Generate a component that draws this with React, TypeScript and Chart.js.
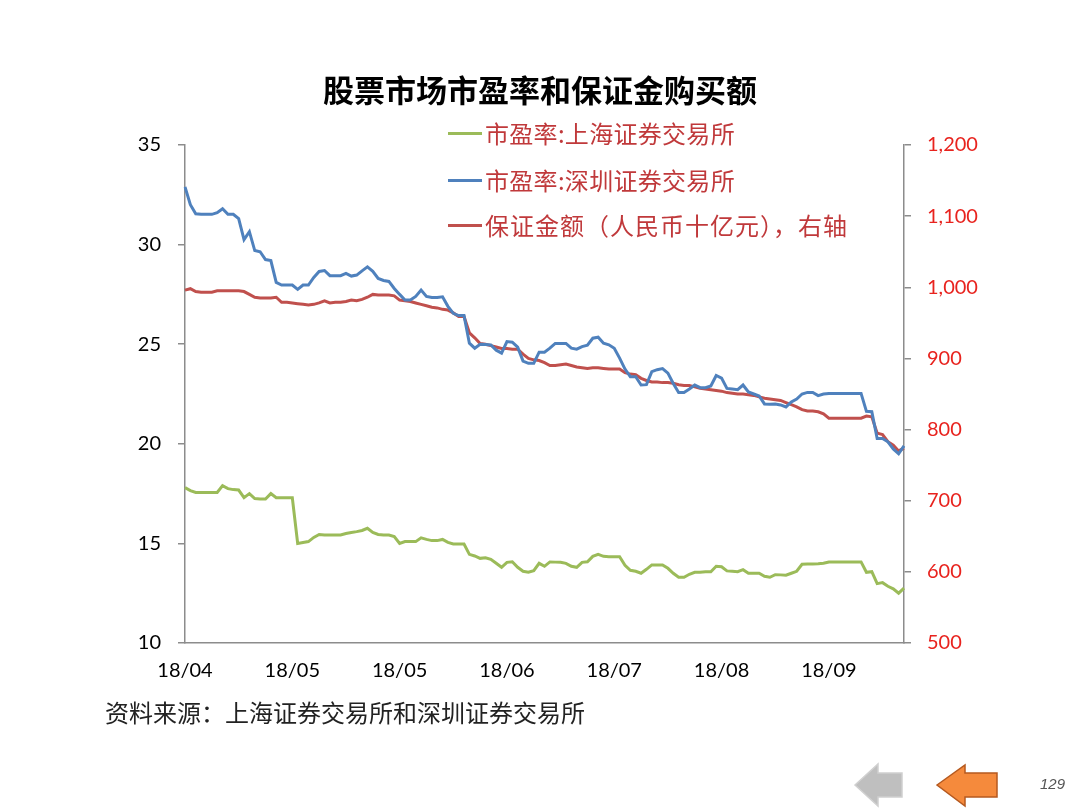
import React, { useEffect, useRef } from 'react';
import { Chart, registerables } from 'chart.js';

Chart.register(...registerables);

// x-axis tick labels (one every 20 trading days)
const xTickLabels = ['18/04', '18/05', '18/05', '18/06', '18/07', '18/08', '18/09'];
const tickEvery = 20;

// 市盈率:上海证券交易所 (left axis)
const shanghaiPE = [17.8,17.65,17.56,17.56,17.56,17.56,17.56,17.9,17.75,17.7,
  17.68,17.3,17.5,17.25,17.23,17.23,17.5,17.29,17.29,17.29,
  17.29,15.0,15.05,15.09,15.3,15.45,15.42,15.42,15.42,15.42,
  15.5,15.55,15.59,15.65,15.76,15.55,15.45,15.42,15.42,15.34,
  15.0,15.09,15.09,15.09,15.28,15.2,15.14,15.14,15.2,15.05,
  14.97,14.97,14.97,14.45,14.37,14.25,14.28,14.2,14.0,13.8,
  14.05,14.08,13.8,13.6,13.55,13.63,14.0,13.85,14.07,14.06,
  14.05,14.0,13.85,13.8,14.05,14.08,14.35,14.45,14.35,14.33,
  14.33,14.33,13.9,13.65,13.6,13.5,13.7,13.92,13.92,13.92,
  13.75,13.5,13.3,13.3,13.45,13.55,13.55,13.58,13.58,13.85,
  13.83,13.62,13.6,13.58,13.68,13.5,13.5,13.5,13.35,13.3,
  13.43,13.42,13.4,13.5,13.6,13.95,13.97,13.97,13.98,14.0,
  14.07,14.07,14.07,14.07,14.07,14.07,14.07,13.55,13.58,12.98,
  13.03,12.85,12.72,12.5,12.75];

// 市盈率:深圳证券交易所 (left axis)
const shenzhenPE = [32.9,32.0,31.55,31.52,31.52,31.52,31.6,31.8,31.52,31.52,
  31.3,30.25,30.65,29.7,29.64,29.25,29.2,28.1,27.97,27.97,
  27.97,27.75,27.97,27.97,28.35,28.65,28.7,28.44,28.44,28.44,
  28.55,28.42,28.47,28.68,28.88,28.66,28.3,28.2,28.15,27.8,
  27.5,27.22,27.22,27.4,27.72,27.4,27.34,27.34,27.38,26.9,
  26.55,26.44,26.44,25.05,24.8,25.0,24.98,24.96,24.7,24.55,
  25.13,25.1,24.85,24.15,24.04,24.04,24.6,24.6,24.8,25.04,
  25.04,25.04,24.8,24.75,24.88,24.95,25.3,25.35,25.05,24.97,
  24.8,24.3,23.75,23.37,23.37,22.95,22.97,23.62,23.72,23.78,
  23.55,23.03,22.58,22.58,22.75,22.95,22.82,22.82,22.9,23.43,
  23.3,22.78,22.75,22.72,22.95,22.6,22.5,22.4,22.0,21.98,
  22.0,21.95,21.85,22.1,22.25,22.5,22.58,22.58,22.42,22.5,
  22.53,22.53,22.53,22.53,22.53,22.53,22.53,21.63,21.61,20.27,
  20.27,20.1,19.74,19.5,19.9];

// 保证金额（人民币十亿元）(right axis)
const marginAmount = [996,998,994,993,993,993,995,995,995,995,
  995,994,990,986,985,985,985,986,979,979,
  978,977,976,975,976,978,981,978,979,979,
  980,982,981,983,986,990,989,989,989,988,
  982,981,980,978,976,974,972,971,969,968,
  964,959,959,936,929,921,920,918,916,914,
  914,913,913,906,900,898,897,894,890,890,
  891,892,890,888,887,886,887,887,886,885,
  885,885,880,878,877,872,869,867,867,866,
  866,865,863,862,862,860,858,857,856,855,
  854,852,851,850,850,849,848,846,844,843,
  842,841,838,835,832,828,826,826,825,822,
  816,816,816,816,816,816,816,819,818,795,
  793,783,778,770,774];

const seriesNames = ['市盈率:上海证券交易所', '市盈率:深圳证券交易所', '保证金额（人民币十亿元），右轴'];
const seriesColors = ['#9BBB59', '#4F81BD', '#C0504D'];

const titleText = '股票市场市盈率和保证金购买额';
const sourceText = '资料来源：上海证券交易所和深圳证券交易所';

const numFont = 'Lato, "Noto Sans", sans-serif';
const cjkFont = '"Noto Sans CJK SC", "Noto Sans", sans-serif';

export default function App() {
  const ref = useRef<HTMLCanvasElement>(null);

  useEffect(() => {
    document.body.style.margin = '0';
    const labels = shanghaiPE.map((_, i) => String(i));
    const chart = new Chart(ref.current!, {
      type: 'line',
      data: {
        labels,
        datasets: [
          { label: seriesNames[0], data: shanghaiPE, borderColor: seriesColors[0], backgroundColor: seriesColors[0], borderWidth: 3, pointRadius: 0, tension: 0, yAxisID: 'y' },
          { label: seriesNames[1], data: shenzhenPE, borderColor: seriesColors[1], backgroundColor: seriesColors[1], borderWidth: 3, pointRadius: 0, tension: 0, yAxisID: 'y' },
          { label: seriesNames[2], data: marginAmount, borderColor: seriesColors[2], backgroundColor: seriesColors[2], borderWidth: 3, pointRadius: 0, tension: 0, yAxisID: 'y1' },
        ],
      },
      options: {
        responsive: false,
        animation: false,
        devicePixelRatio: 1,
        layout: { padding: { top: 145, left: 0, right: 0, bottom: 0 } },
        plugins: { legend: { display: false }, title: { display: false }, tooltip: { enabled: false } },
        scales: {
          x: {
            type: 'category',
            offset: false,
            grid: { display: false, drawTicks: false },
            border: { display: true, color: '#8c8c8c', width: 1.5 },
            ticks: {
              autoSkip: false,
              maxRotation: 0,
              padding: 16,
              color: '#000',
              font: { family: numFont, size: 20 },
              callback: (_v: any, idx: number) => (idx % tickEvery === 0 ? xTickLabels[idx / tickEvery] : null),
            },
            afterFit: (s: any) => { s.height = 810 - 643; },
          },
          y: {
            position: 'left',
            min: 10,
            max: 35,
            ticks: { stepSize: 5, padding: 17, color: '#000', font: { family: numFont, size: 20 } },
            grid: { display: true, drawOnChartArea: false, drawTicks: true, tickLength: 7, color: '#8c8c8c', lineWidth: 1.5 },
            border: { display: true, color: '#8c8c8c', width: 1.5 },
            afterFit: (s: any) => { s.width = 185; },
          },
          y1: {
            position: 'right',
            min: 500,
            max: 1200,
            ticks: {
              stepSize: 100,
              padding: 16,
              color: '#E8231E',
              font: { family: numFont, size: 20 },
              callback: (v: any) => Number(v).toLocaleString('en-US'),
            },
            grid: { display: true, drawOnChartArea: false, drawTicks: true, tickLength: 7, color: '#8c8c8c', lineWidth: 1.5 },
            border: { display: true, color: '#8c8c8c', width: 1.5 },
            afterFit: (s: any) => { s.width = 1080 - 904; },
          },
        },
      },
    });
    return () => chart.destroy();
  }, []);

  const legendTops = [133, 180, 225];

  return (
    <div style={{ position: 'relative', width: 1080, height: 810, background: '#fff', overflow: 'hidden' }}>
      <canvas ref={ref} width={1080} height={810} style={{ position: 'absolute', left: 0, top: 0, width: 1080, height: 810 }} />
      <div style={{ position: 'absolute', left: 0, width: 1080, top: 67, textAlign: 'center', fontFamily: cjkFont, fontWeight: 700, fontSize: 31, lineHeight: '44px', color: '#000' }}>
        {titleText}
      </div>
      {seriesNames.map((name, i) => (
        <div key={name} style={{ position: 'absolute', left: 448, top: legendTops[i] - 17, height: 34, display: 'flex', alignItems: 'center', whiteSpace: 'nowrap' }}>
          <span style={{ display: 'inline-block', width: 34, height: 3, background: seriesColors[i], marginRight: 3 }} />
          <span style={{ fontFamily: cjkFont, fontSize: 24, lineHeight: '34px', color: '#C0393B', letterSpacing: i === 2 ? 1 : 0.3 }}>{name}</span>
        </div>
      ))}
      <div style={{ position: 'absolute', left: 105, top: 695, fontFamily: cjkFont, fontSize: 24, lineHeight: '34px', color: '#222', whiteSpace: 'nowrap' }}>
        {sourceText}
      </div>
      <svg width={1080} height={810} style={{ position: 'absolute', left: 0, top: 0, pointerEvents: 'none' }}>
        <polygon points="855,785 878,764 878,773 902,773 902,797 878,797 878,806" fill="#BFBFBF" stroke="#D0D0D0" strokeWidth={1.5} />
        <polygon points="937,785 965,765 965,773 997,773 997,797 965,797 965,806" fill="#F58A3C" stroke="#B5591F" strokeWidth={1.5} />
      </svg>
      <div style={{ position: 'absolute', left: 1040, top: 775, fontFamily: '"Liberation Sans", Arial, sans-serif', fontStyle: 'italic', fontSize: 15, color: '#555' }}>
        129
      </div>
    </div>
  );
}
